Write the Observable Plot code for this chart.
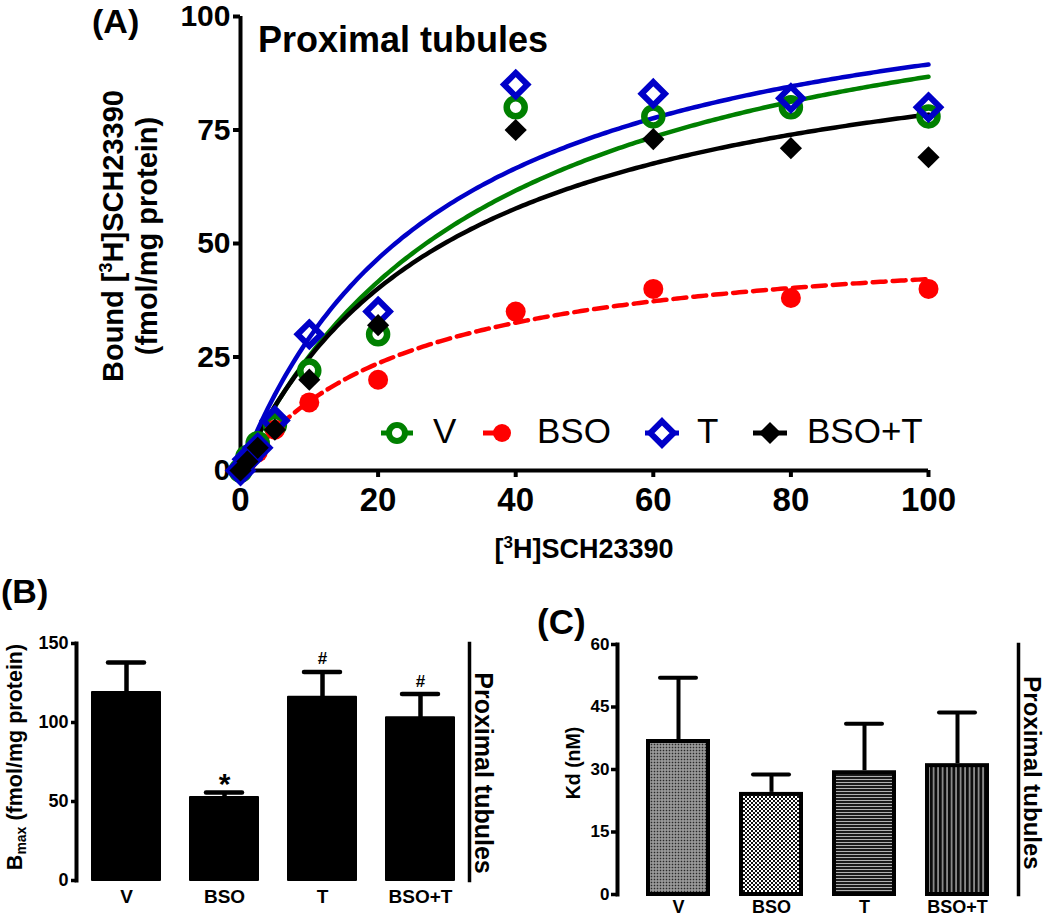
<!DOCTYPE html>
<html><head><meta charset="utf-8">
<script src="https://cdn.jsdelivr.net/npm/d3@7"></script>
<script src="https://cdn.jsdelivr.net/npm/@observablehq/plot@0.6"></script>
<style>
body{margin:0;background:#fff;}
#fig{position:relative;width:1050px;height:919px;overflow:hidden;background:#fff;font-family:"Liberation Sans",Arial,sans-serif;}
#fig svg{position:absolute;overflow:visible;}
</style></head><body><div id="fig"></div>
<script>
// ---------- data ----------
const groups = ["V", "BSO", "T", "BSO+T"];
const colors = ["#008000", "#ff0000", "#0000c8", "#000000"];
const concentrations = [0, 1, 2.5, 5, 10, 20, 40, 60, 80, 100];
const boundV    = [0, 3, 6, 10, 22, 30, 80, 78, 80, 78];
const boundBSO  = [0, 2, 4, 9, 15, 20, 35, 40, 38, 40];
const boundT    = [0, 2.5, 5, 11, 30, 35, 85, 83, 82, 80];
const boundBSOT = [0, 2, 5, 9, 20, 32, 75, 73, 71, 69];
const bmax    = [119, 52.5, 116, 103];
const bmaxSem = [19, 3.2, 16, 15];
const kd      = [37.2, 24.5, 29.7, 31.4];
const kdSem   = [14.8, 4.3, 11.3, 12.3];
const bmaxSig = ["", "*", "#", "#"];
const xTicksA = [0, 20, 40, 60, 80, 100];
const yTicksA = [0, 25, 50, 75, 100];
const yTicksB = [0, 50, 100, 150];
const yTicksC = [0, 15, 30, 45, 60];

const FONT = "Liberation Sans, Arial, Helvetica, sans-serif";
const fig = document.getElementById("fig");

// ---------- tables ----------
const boundSeries = [boundV, boundBSO, boundT, boundBSOT];
const points = groups.flatMap((g, i) => concentrations.map((c, j) => ({group: g, conc: c, bound: boundSeries[i][j]})));
// one-site saturation fit from the Bmax / Kd values of panels B and C
const curveX = d3.range(0, 100.001, 0.5);
const curves = groups.flatMap((g, i) => curveX.map(x => ({group: g, conc: x, bound: bmax[i] * x / (kd[i] + x)})));
const barsB = groups.map((g, i) => ({group: g, v: bmax[i], top: bmax[i] + bmaxSem[i], sig: bmaxSig[i]}));
const barsC = groups.map((g, i) => ({group: g, v: kd[i], top: kd[i] + kdSem[i], pat: `url(#pat${i})`}));

function place(svg, left, top) {
  svg.style.left = left + "px"; svg.style.top = top + "px";
  d3.select(svg).selectAll("g[aria-label$='tick label']").attr("font-weight", "bold").attr("fill", "#000");
  fig.appendChild(svg);
  return svg;
}
const byG = g => d => d.group === g;

// ---------- Panel A ----------
const A = Plot.plot({
  width: 1050, height: 580, marginLeft: 240, marginRight: 122, marginTop: 16, marginBottom: 110,
  style: {fontFamily: FONT, background: "transparent", overflow: "visible"},
  x: {domain: [0, 100]},
  y: {domain: [0, 100]},
  marks: [
    Plot.axisY({ticks: yTicksA, tickSize: 7, tickPadding: 3, strokeWidth: 4, fontSize: 30, fontWeight: "bold", label: null}),
    Plot.axisX({ticks: xTicksA, tickSize: 7, tickPadding: 10, strokeWidth: 4, fontSize: 33, fontWeight: "bold", label: null}),
    Plot.ruleX([0], {y1: 0, y2: 100, strokeWidth: 4}),
    Plot.ruleY([0], {x1: 0, x2: 100, strokeWidth: 4}),
    Plot.line(curves.filter(byG("BSO")), {x: "conc", y: "bound", stroke: colors[1], strokeWidth: 4.5, strokeDasharray: "13,7"}),
    Plot.line(curves.filter(byG("V")), {x: "conc", y: "bound", stroke: colors[0], strokeWidth: 4.5}),
    Plot.line(curves.filter(byG("BSO+T")), {x: "conc", y: "bound", stroke: colors[3], strokeWidth: 4.5}),
    Plot.line(curves.filter(byG("T")), {x: "conc", y: "bound", stroke: colors[2], strokeWidth: 4.5}),
    Plot.dot(points.filter(byG("V")), {x: "conc", y: "bound", r: 9, stroke: colors[0], strokeWidth: 6.5, fill: "none"}),
    Plot.dot(points.filter(byG("BSO")), {x: "conc", y: "bound", r: 10, fill: colors[1], stroke: "none"}),
    Plot.dot(points.filter(byG("T")), {x: "conc", y: "bound", r: 10.5, symbol: "diamond2", stroke: colors[2], strokeWidth: 6, fill: "none"}),
    Plot.dot(points.filter(byG("BSO+T")), {x: "conc", y: "bound", r: 10, symbol: "diamond2", fill: colors[3], stroke: "none"})
  ]
});
place(A, 0, 0);

// ---------- Panel B ----------
const B = Plot.plot({
  width: 525, height: 319, marginLeft: 76, marginRight: 56, marginTop: 43, marginBottom: 39,
  style: {fontFamily: FONT, background: "transparent", overflow: "visible"},
  x: {domain: groups, paddingInner: 0.31, paddingOuter: 0.155},
  y: {domain: [0, 150]},
  marks: [
    Plot.axisY({ticks: yTicksB, tickSize: 5, tickPadding: 3, strokeWidth: 3.5, fontSize: 18, fontWeight: "bold", label: null}),
    Plot.axisX({tickSize: 0, tickPadding: 9, fontSize: 19, fontWeight: "bold", label: null}),
    Plot.frame({anchor: "left", strokeWidth: 4}),
    Plot.frame({anchor: "right", strokeWidth: 3.5}),
    Plot.ruleX(barsB, {x: "group", y1: "v", y2: "top", strokeWidth: 4.5}),
    Plot.tickY(barsB, {x: "group", y: "top", strokeWidth: 4.5, inset: 16, strokeLinecap: "round"}),
    Plot.barY(barsB, {x: "group", y: "v", fill: "#000", stroke: "#000", strokeWidth: 2, strokeLinejoin: "round"}),
    Plot.text(barsB.filter(d => d.sig === "*"), {x: "group", y: "top", text: "sig", fontSize: 30, fontWeight: "bold", lineAnchor: "middle", dy: -8}),
    Plot.text(barsB.filter(d => d.sig === "#"), {x: "group", y: "top", text: "sig", fontSize: 17, fontWeight: "bold", lineAnchor: "middle", dy: -13})
  ]
});
place(B, 0, 600);

// ---------- Panel C ----------
const C = Plot.plot({
  width: 525, height: 319, marginLeft: 92, marginRight: 32, marginTop: 44, marginBottom: 25,
  style: {fontFamily: FONT, background: "transparent", overflow: "visible"},
  x: {domain: groups, paddingInner: 0.31, paddingOuter: 0.288},
  y: {domain: [0, 60]},
  color: {type: "identity"},
  marks: [
    Plot.axisY({ticks: yTicksC, tickSize: 6, tickPadding: 2, strokeWidth: 3.5, fontSize: 17, fontWeight: "bold", label: null}),
    Plot.axisX({tickSize: 0, tickPadding: 6, fontSize: 18, fontWeight: "bold", label: null}),
    Plot.frame({anchor: "left", strokeWidth: 4}),
    Plot.frame({anchor: "right", strokeWidth: 3.5}),
    Plot.ruleX(barsC, {x: "group", y1: "v", y2: "top", strokeWidth: 4}),
    Plot.tickY(barsC, {x: "group", y: "top", strokeWidth: 4, inset: 14, strokeLinecap: "round"}),
    Plot.barY(barsC, {x: "group", y: "v", fill: "pat", stroke: "#000", strokeWidth: 4, insetLeft: 2, insetRight: 2, insetTop: 2})
  ]
});
// hatch patterns for panel C bars
{
  const defs = d3.select(C).insert("defs", ":first-child");
  // V : fine stipple (mid grey)
  let p = defs.append("pattern").attr("id", "pat0").attr("patternUnits", "userSpaceOnUse").attr("width", 3).attr("height", 3);
  p.append("rect").attr("width", 3).attr("height", 3).attr("fill", "#7e7e7e");
  p.append("rect").attr("x", 0).attr("y", 0).attr("width", 1).attr("height", 1).attr("fill", "#2a2a2a");
  p.append("rect").attr("x", 1.5).attr("y", 1.5).attr("width", 1).attr("height", 1).attr("fill", "#e0e0e0");
  // BSO : checker
  p = defs.append("pattern").attr("id", "pat1").attr("patternUnits", "userSpaceOnUse").attr("width", 4).attr("height", 4);
  p.append("rect").attr("width", 4).attr("height", 4).attr("fill", "#ffffff");
  p.append("rect").attr("width", 2).attr("height", 2).attr("fill", "#111");
  p.append("rect").attr("x", 2).attr("y", 2).attr("width", 2).attr("height", 2).attr("fill", "#111");
  // T : horizontal lines
  p = defs.append("pattern").attr("id", "pat2").attr("patternUnits", "userSpaceOnUse").attr("width", 4).attr("height", 3);
  p.append("rect").attr("width", 4).attr("height", 3).attr("fill", "#1a1a1a");
  p.append("rect").attr("y", 2).attr("width", 4).attr("height", 1).attr("fill", "#b0b0b0");
  // BSO+T : vertical lines
  p = defs.append("pattern").attr("id", "pat3").attr("patternUnits", "userSpaceOnUse").attr("width", 4.5).attr("height", 4);
  p.append("rect").attr("width", 4.5).attr("height", 4).attr("fill", "#0d0d0d");
  p.append("rect").attr("x", 3).attr("width", 1.2).attr("height", 4).attr("fill", "#c8c8c8");
}
place(C, 525, 600);

// ---------- overlay: titles, axis titles, legend ----------
const ov = d3.create("svg").attr("width", 1050).attr("height", 919)
  .style("left", "0px").style("top", "0px").attr("font-family", FONT);
function txt(x, y, s, size, weight, anchor, rot) {
  const t = ov.append("text").attr("transform", `translate(${x},${y})` + (rot ? ` rotate(${rot})` : ""))
    .attr("font-size", size).attr("font-weight", weight).attr("text-anchor", anchor || "start").attr("fill", "#000");
  if (s != null) t.text(s);
  return t;
}
// panel letters
txt(92, 33, "(A)", 34, "bold");
txt(1, 603, "(B)", 34, "bold");
txt(537, 634, "(C)", 35, "bold");
// Panel A texts
txt(258, 52, "Proximal tubules", 36, "bold");
{
  const t1 = txt(123, 236, null, 29, "bold", "middle", -90);
  t1.append("tspan").text("Bound [");
  t1.append("tspan").attr("font-size", 18).attr("dy", -11).text("3");
  t1.append("tspan").attr("dy", 11).text("H]SCH23390");
  txt(157, 236, "(fmol/mg protein)", 29, "bold", "middle", -90);
  const t2 = txt(584, 558, null, 27, "bold", "middle");
  t2.append("tspan").text("[");
  t2.append("tspan").attr("font-size", 17).attr("dy", -10).text("3");
  t2.append("tspan").attr("dy", 10).text("H]SCH23390");
}
// Panel B texts
{
  const t = txt(22, 757, null, 21.5, "bold", "middle", -90);
  t.append("tspan").text("B");
  t.append("tspan").attr("font-size", 14).attr("dy", 4).text("max");
  t.append("tspan").attr("dy", -4).text(" (fmol/mg protein)");
  txt(475, 773, "Proximal tubules", 25, "bold", "middle", 90);
}
// Panel C texts
txt(580, 763, "Kd (nM)", 19.5, "bold", "middle", -90);
txt(1024, 773, "Proximal tubules", 24, "bold", "middle", 90);

// legend for panel A (layout positions)
{
  const legY = 433;
  const markerX = [397, 500, 662, 770];
  const lineHalf = [16, 17, 17, 17];
  const labelX = [433, 537, 697, 807];
  groups.forEach((g, i) => {
    const cx = markerX[i];
    const ln = ov.append("line").attr("x1", cx - lineHalf[i]).attr("x2", i === 1 ? cx : cx + lineHalf[i])
      .attr("y1", legY).attr("y2", legY).attr("stroke", colors[i]).attr("stroke-width", 5);
    if (i === 1) ln.attr("stroke-dasharray", "13,7");
    if (i === 0) ov.append("circle").attr("cx", cx).attr("cy", legY).attr("r", 8).attr("fill", "#fff").attr("stroke", colors[0]).attr("stroke-width", 6);
    if (i === 1) ov.append("circle").attr("cx", cx + 2).attr("cy", legY).attr("r", 9).attr("fill", colors[1]);
    if (i === 2) ov.append("path").attr("d", d3.symbol(d3.symbolDiamond2, Math.PI * 10.5 * 10.5)()).attr("transform", `translate(${cx},${legY})`)
      .attr("fill", "#fff").attr("stroke", colors[2]).attr("stroke-width", 6);
    if (i === 3) ov.append("path").attr("d", d3.symbol(d3.symbolDiamond2, Math.PI * 10 * 10)()).attr("transform", `translate(${cx},${legY})`)
      .attr("fill", colors[3]);
    txt(labelX[i], 443, g, 35, "normal");
  });
}
fig.appendChild(ov.node());
</script></body></html>
